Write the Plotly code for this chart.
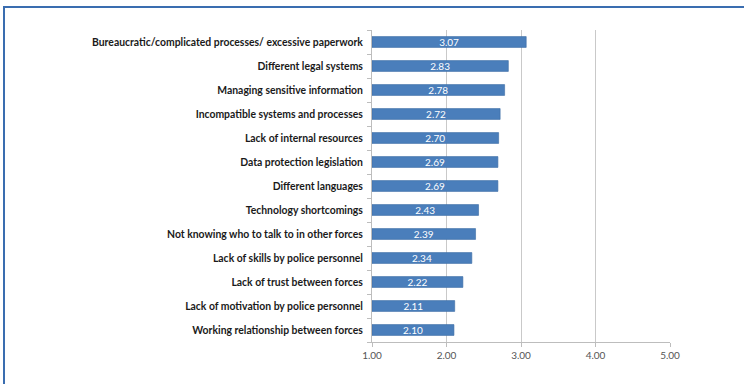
import plotly.graph_objects as go

categories = [
    "Bureaucratic/complicated processes/ excessive paperwork",
    "Different legal systems",
    "Managing sensitive information",
    "Incompatible systems and processes",
    "Lack of internal resources",
    "Data protection legislation",
    "Different languages",
    "Technology shortcomings",
    "Not knowing who to talk to in other forces",
    "Lack of skills by police personnel",
    "Lack of trust between forces",
    "Lack of motivation by police personnel",
    "Working relationship between forces",
]
values = [3.07, 2.83, 2.78, 2.72, 2.70, 2.69, 2.69, 2.43, 2.39, 2.34, 2.22, 2.11, 2.10]
axis_min = 1.0
tick_vals = [1, 2, 3, 4, 5]
tick_text = ["1.00", "2.00", "3.00", "4.00", "5.00"]

W, H = 744, 384
ml, mr, mt, mb = 372, 74, 30, 42

fig = go.Figure(go.Bar(
    y=categories,
    x=[v - axis_min for v in values],
    base=axis_min,
    orientation="h",
    marker=dict(color="#4a7ebb", line=dict(color="#3d6ca5", width=0.6)),
    text=[f"{v:.2f}" for v in values],
    textposition="inside",
    insidetextanchor="middle",
    constraintext="none",
    textfont=dict(color="white", size=10, family="Lato"),
    width=0.45,
    cliponaxis=False,
))

pw = W - ml - mr
ph = H - mt - mb
def px_to_paper_x(px):
    return (px - ml) / pw
def py_to_paper_y(py):
    return 1 - (py - mt) / ph

fig.add_shape(type="rect", xref="paper", yref="paper",
              x0=px_to_paper_x(4), x1=px_to_paper_x(760),
              y0=py_to_paper_y(400), y1=py_to_paper_y(7),
              line=dict(color="#3a6db0", width=2), fillcolor="rgba(0,0,0,0)", layer="below")

fig.update_layout(
    width=W, height=H,
    margin=dict(l=ml, r=mr, t=mt, b=mb),
    paper_bgcolor="white", plot_bgcolor="white",
    showlegend=False,
    bargap=0.55,
    font=dict(family="Lato"),
    uniformtext=dict(mode="show", minsize=10),
    xaxis=dict(
        range=[1, 5], tickvals=tick_vals, ticktext=tick_text,
        showgrid=True, gridcolor="#c9c9c9", gridwidth=1,
        showline=True, linecolor="#bdbdbd", linewidth=1,
        ticks="outside", ticklen=4, tickcolor="#bdbdbd",
        tickfont=dict(size=10, color="#555555", family="Lato"),
        zeroline=False, fixedrange=True,
    ),
    yaxis=dict(
        categoryorder="array", categoryarray=categories[::-1],
        showline=True, linecolor="#bdbdbd", linewidth=1,
        ticks="outside", ticklen=4, tickcolor="#bdbdbd", tickson="boundaries",
        tickfont=dict(size=10.4, color="#1a1a1a", family="Lato", weight="bold"),
        ticklabelstandoff=6,
        showgrid=False,
    ),
)

fig.write_html("out.html")
